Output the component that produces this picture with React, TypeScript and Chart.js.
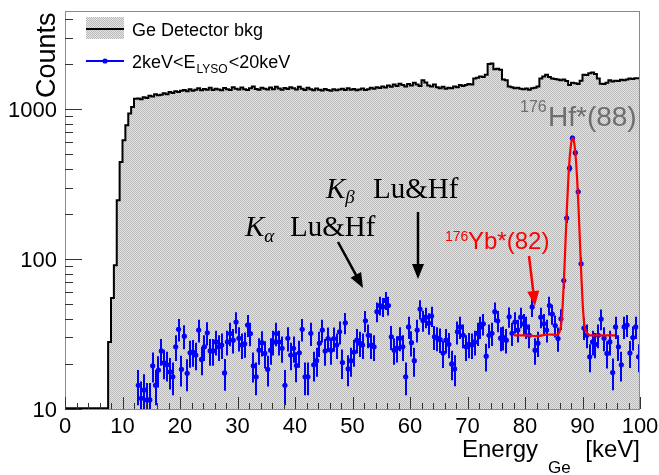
import React, { useEffect, useRef } from "react";
import { Chart, registerables } from "chart.js";
Chart.register(...registerables);

// ---------------- data ----------------
const GE_BIN_WIDTH = 0.5; // keV, histogram bins start at 0
const geCounts = [
  10.1, 10.1, 10.1, 10.1, 10.1, 10.1, 10.1, 10.1, 10.1, 10.1, 10.1, 10.1, 10.1, 10.1, 10.1, 10.1,
  28, 55, 91, 247, 445, 621, 782, 935, 1035, 1176,
  1180, 1165, 1200, 1190, 1230, 1215, 1260, 1240, 1250, 1280, 1260, 1300, 1285, 1320,
  1300, 1330, 1345, 1320, 1360, 1330, 1350, 1380, 1340, 1365, 1350, 1390, 1345, 1370, 1355, 1340, 1385, 1360, 1345, 1400,
  1370, 1355, 1395, 1360, 1345, 1380, 1420, 1365, 1350, 1390, 1370, 1355, 1395, 1360, 1410, 1375, 1350, 1385, 1365, 1400,
  1380, 1355, 1410, 1370, 1345, 1390, 1360, 1340, 1375, 1350, 1335, 1365, 1345, 1330, 1360, 1340, 1355, 1370, 1345, 1380,
  1350, 1365, 1340, 1355, 1375, 1345, 1360, 1390, 1370, 1400, 1385, 1420, 1395, 1440, 1410, 1460, 1430, 1480, 1450, 1420,
  1470, 1440, 1500, 1460, 1430, 1560, 1510, 1440, 1420, 1460, 1400, 1380, 1410, 1370, 1390, 1380, 1420, 1400, 1450, 1430,
  1450, 1470, 1460, 1600, 1620, 1650, 1640, 1700, 2000, 2020, 1850, 1860, 1830, 1580, 1560, 1420, 1400, 1380, 1390, 1370,
  1360, 1375, 1350, 1380, 1390, 1420, 1600, 1650, 1700, 1640, 1600, 1590, 1580, 1560, 1580, 1540, 1450, 1500, 1490, 1470,
  1550, 1700, 1690, 1740, 1760, 1720, 1600, 1480, 1470, 1500, 1560, 1530, 1550, 1540, 1570, 1560, 1580, 1600, 1590, 1610,
];

const LYSO_FIRST_CENTER = 12.75; // keV, centre of first bin, bins 0.5 keV wide
const lysoCounts = [
  14.4, 11.8, 13.4, 11.5, 11.5, 19.4, 14.4, 18.2, 24.4, 20.3, 19.7, 17.7, 16.4, 26, 34, 18.4, 30.6, 17.3, 23.7, 24, 22.9, 33.6, 21.4, 26, 32.2, 24.4, 24.4,
  28, 26, 26.7, 17.4, 28, 31.9, 28.8, 38, 29.6, 26.7, 27.2, 36.3, 31.9, 19.4, 16.4, 24.7, 27.7, 23.5, 18.4, 24.7, 28, 31.9, 28, 25.4, 14.4, 29.6, 22.9, 25.4, 19.5, 23.7, 34,
  16.4, 16.4, 32, 19.7, 21, 27.5, 33.6, 24.4, 29.5, 24.7, 29.5, 26.7, 32.7, 20.4, 37.6, 18.5, 21, 24, 28.8, 27.5, 26.7, 38.8, 31, 26.7, 26, 44.6, 49, 48, 53, 49,
  30.3, 24.7, 25.5, 29.7, 26, 16.4, 35.3, 27.7, 21, 33.6, 46.4, 39, 41, 37.4, 41.7, 30.3, 29.7, 29, 23.6, 28.8, 27, 20, 18.5, 32.7, 35.3, 31, 26, 27, 26.7,
  28, 32, 35.3, 37, 22.5, 31, 32, 44.6, 38.8, 29.7, 30, 28.8, 41.2, 32, 38, 33.6, 41, 37, 35.3, 31, 48, 24.7, 27.5, 41, 37, 33.6, 49, 43, 36, 29.5,
  40, 72, 188, 404, 641, 513, 281, 93, 34.7, 31,
  22.3, 28, 27, 31, 39.8, 29.7, 23.5, 28, 17.5, 35.3, 26, 19.7, 35.3, 36.3, 23.6, 30, 35.3, 22.3,
];

// fit curve
const fitEnergy = [78.1, 80, 82, 84, 85.5, 85.8, 86.3, 86.55, 86.8, 87.05, 87.3, 87.55, 87.8, 88.05, 88.3, 88.55, 88.8, 89.05, 89.3, 89.55, 89.8, 90.05, 90.3, 90.8, 91.5, 93, 95.7];
const fitCounts = [31, 31, 30.6, 31.4, 31.2, 31.6, 37, 49, 77, 132, 224, 351, 489, 599, 641, 599, 489, 351, 224, 132, 77, 49, 37, 32, 31, 31, 31];

const xTickLabels = [0, 10, 20, 30, 40, 50, 60, 70, 80, 90, 100];
const yTickLabels = [10, 100, 1000];
const X_MIN = 0, X_MAX = 100, Y_MIN = 10, Y_MAX = 4520;

const SANS = '"Liberation Sans", Arial, Helvetica, sans-serif';
const SERIF = '"Liberation Serif", "Times New Roman", serif';

function makePattern(): CanvasPattern | string {
  const c = document.createElement("canvas");
  c.width = 2; c.height = 2;
  const g = c.getContext("2d");
  if (!g) return "#d0d0d0";
  g.fillStyle = "#e4e4e4"; g.fillRect(0, 0, 2, 2);
  g.fillStyle = "#bababa"; g.fillRect(0, 0, 1, 1); g.fillRect(1, 1, 1, 1);
  const p = g.createPattern(c, "repeat");
  return p || "#d0d0d0";
}

function arrow(ctx: CanvasRenderingContext2D, x1: number, y1: number, x2: number, y2: number, color: string) {
  const ang = Math.atan2(y2 - y1, x2 - x1);
  const L = 15, W = 6;
  ctx.save();
  ctx.strokeStyle = color; ctx.fillStyle = color; ctx.lineWidth = 2.5;
  ctx.beginPath();
  ctx.moveTo(x1, y1);
  ctx.lineTo(x2 - Math.cos(ang) * L * 0.8, y2 - Math.sin(ang) * L * 0.8);
  ctx.stroke();
  ctx.beginPath();
  ctx.moveTo(x2, y2);
  ctx.lineTo(x2 - Math.cos(ang) * L - Math.sin(ang) * W, y2 - Math.sin(ang) * L + Math.cos(ang) * W);
  ctx.lineTo(x2 - Math.cos(ang) * L + Math.sin(ang) * W, y2 - Math.sin(ang) * L - Math.cos(ang) * W);
  ctx.closePath();
  ctx.fill();
  ctx.restore();
}

function txt(ctx: CanvasRenderingContext2D, s: string, x: number, y: number, font: string, color: string, align: CanvasTextAlign = "left") {
  ctx.font = font; ctx.fillStyle = color; ctx.textAlign = align; ctx.textBaseline = "alphabetic";
  ctx.fillText(s, x, y);
  return ctx.measureText(s).width;
}

export default function App() {
  const ref = useRef<HTMLCanvasElement | null>(null);

  useEffect(() => {
    const canvas = ref.current;
    if (!canvas) return;
    const pattern = makePattern();

    const histPoints = geCounts.map((v, i) => ({ x: i * GE_BIN_WIDTH, y: v }));
    histPoints.push({ x: geCounts.length * GE_BIN_WIDTH, y: geCounts[geCounts.length - 1] });
    const lysoPoints = lysoCounts.map((v, i) => ({ x: LYSO_FIRST_CENTER + i * 0.5, y: v }));
    const fitPoints = fitEnergy.map((e, i) => ({ x: e, y: fitCounts[i] }));

    const decor = {
      id: "rootDecor",
      beforeDatasetDraw(chart: any, args: any) {
        if (args.index !== 1) return;
        const { ctx, chartArea: a } = chart;
        const xs = chart.scales.x, ys = chart.scales.y;
        ctx.save();
        ctx.beginPath(); ctx.rect(a.left, a.top, a.right - a.left, a.bottom - a.top); ctx.clip();
        ctx.strokeStyle = "#0000ff"; ctx.lineWidth = 2;
        lysoPoints.forEach((p) => {
          const e = Math.sqrt(p.y);
          const px = Math.round(xs.getPixelForValue(p.x)) + 0.0;
          const lo = Math.max(p.y - e, 1);
          ctx.beginPath();
          ctx.moveTo(px, ys.getPixelForValue(lo));
          ctx.lineTo(px, ys.getPixelForValue(p.y + e));
          ctx.stroke();
        });
        ctx.restore();
      },
      afterDraw(chart: any) {
        const { ctx, chartArea: a } = chart;
        const xs = chart.scales.x, ys = chart.scales.y;
        ctx.save();
        // frame
        ctx.strokeStyle = "#8a8a8a"; ctx.lineWidth = 1;
        ctx.strokeRect(a.left + 0.5, a.top + 0.5, a.right - a.left - 1, a.bottom - a.top);
        // ticks
        ctx.strokeStyle = "#333"; ctx.lineWidth = 1;
        for (let v = X_MIN; v <= X_MAX; v += 2) {
          const px = Math.round(xs.getPixelForValue(v)) + 0.5;
          const len = v % 10 === 0 ? 12 : 6;
          ctx.beginPath(); ctx.moveTo(px, a.bottom); ctx.lineTo(px, a.bottom - len); ctx.stroke();
        }
        for (let d = 10; d <= 1000; d *= 10) {
          for (let m = 1; m <= 9; m++) {
            const v = d * m;
            if (v < Y_MIN || v > Y_MAX) continue;
            const py = Math.round(ys.getPixelForValue(v)) + 0.5;
            const len = m === 1 ? 17 : 8;
            ctx.beginPath(); ctx.moveTo(a.left, py); ctx.lineTo(a.left + len, py); ctx.stroke();
          }
        }
        // tick labels
        xTickLabels.forEach((v) => {
          txt(ctx, String(v), xs.getPixelForValue(v), 433, `22px ${SANS}`, "#000", "center");
        });
        yTickLabels.forEach((v) => {
          txt(ctx, String(v), 57, ys.getPixelForValue(v) + 8, `22px ${SANS}`, "#000", "right");
        });
        // axis titles
        txt(ctx, "Energy", 462, 457, `24px ${SANS}`, "#000");
        txt(ctx, "Ge", 548, 473, `17px ${SANS}`, "#000");
        txt(ctx, "[keV]", 640, 457, `24px ${SANS}`, "#000", "right");
        ctx.save();
        ctx.translate(55, 98); ctx.rotate(-Math.PI / 2);
        txt(ctx, "Counts", 0, 0, `27px ${SANS}`, "#000");
        ctx.restore();

        // legend
        ctx.fillStyle = pattern as any;
        ctx.fillRect(86, 17, 38, 22);
        ctx.strokeStyle = "#000"; ctx.lineWidth = 2;
        ctx.beginPath(); ctx.moveTo(86, 29); ctx.lineTo(124, 29); ctx.stroke();
        txt(ctx, "Ge Detector bkg", 132, 36, `18px ${SANS}`, "#000");
        ctx.strokeStyle = "#0000ff"; ctx.lineWidth = 2;
        ctx.beginPath(); ctx.moveTo(86, 61); ctx.lineTo(124, 61); ctx.stroke();
        ctx.fillStyle = "#0000ff";
        ctx.beginPath(); ctx.arc(105, 61, 2.6, 0, Math.PI * 2); ctx.fill();
        let x = 132;
        x += txt(ctx, "2keV<E", x, 68, `18px ${SANS}`, "#000");
        x += txt(ctx, "LYSO", x + 1, 73, `12px ${SANS}`, "#000") + 2;
        txt(ctx, "<20keV", x, 68, `18px ${SANS}`, "#000");

        // K alpha / K beta labels
        let kx = 245;
        kx += txt(ctx, "K", kx, 236, `italic 29px ${SERIF}`, "#000");
        txt(ctx, "α", kx, 242, `italic 19px ${SERIF}`, "#000");
        txt(ctx, "Lu&Hf", 290, 236, `29px ${SERIF}`, "#000");
        kx = 326;
        kx += txt(ctx, "K", kx, 198, `italic 29px ${SERIF}`, "#000");
        txt(ctx, "β", kx, 203, `italic 19px ${SERIF}`, "#000");
        txt(ctx, "Lu&Hf", 373, 198, `29px ${SERIF}`, "#000");
        arrow(ctx, 338, 242, 363, 288, "#000");
        arrow(ctx, 418, 212, 418, 279, "#000");

        // isotope labels
        txt(ctx, "176", 520, 112, `16px ${SANS}`, "#6e6e6e");
        txt(ctx, "Hf*(88)", 548, 126, `28px ${SANS}`, "#6e6e6e");
        txt(ctx, "176", 445, 241, `14px ${SANS}`, "#ff0000");
        txt(ctx, "Yb*(82)", 468, 249, `24px ${SANS}`, "#ff0000");
        arrow(ctx, 529, 256, 535, 306, "#ff0000");
        ctx.restore();
      },
    };

    const chart = new Chart(canvas, {
      type: "line",
      data: {
        datasets: [
          {
            label: "Ge Detector bkg",
            data: histPoints,
            stepped: "after",
            borderColor: "#000",
            borderWidth: 2,
            backgroundColor: pattern as any,
            fill: "start",
            pointRadius: 0,
            order: 3,
          },
          {
            label: "2keV<E_LYSO<20keV",
            data: lysoPoints,
            showLine: false,
            pointRadius: 2.6,
            pointBackgroundColor: "#0000ff",
            pointBorderWidth: 0,
            borderColor: "#0000ff",
            order: 2,
          },
          {
            label: "fit",
            data: fitPoints,
            borderColor: "#ff0000",
            borderWidth: 2.2,
            pointRadius: 0,
            cubicInterpolationMode: "monotone",
            fill: false,
            order: 1,
          },
        ] as any,
      },
      options: {
        animation: false,
        responsive: false,
        devicePixelRatio: 1,
        layout: { padding: { top: 11, right: 19, left: 0, bottom: 0 } },
        plugins: { legend: { display: false }, tooltip: { enabled: false } },
        scales: {
          x: {
            type: "linear", min: X_MIN, max: X_MAX,
            grid: { display: false }, border: { display: false }, ticks: { display: false },
            afterFit: (s: any) => { s.height = 66; },
          },
          y: {
            type: "logarithmic", min: Y_MIN, max: Y_MAX,
            grid: { display: false }, border: { display: false }, ticks: { display: false },
            afterFit: (s: any) => { s.width = 65; },
          },
        },
      } as any,
      plugins: [decor as any],
    });
    return () => chart.destroy();
  }, []);

  return (
    <div style={{ position: "absolute", left: 0, top: 0, width: 659, height: 475, background: "#fff" }}>
      <canvas ref={ref} width={659} height={475} style={{ display: "block", width: 659, height: 475 }} />
    </div>
  );
}
